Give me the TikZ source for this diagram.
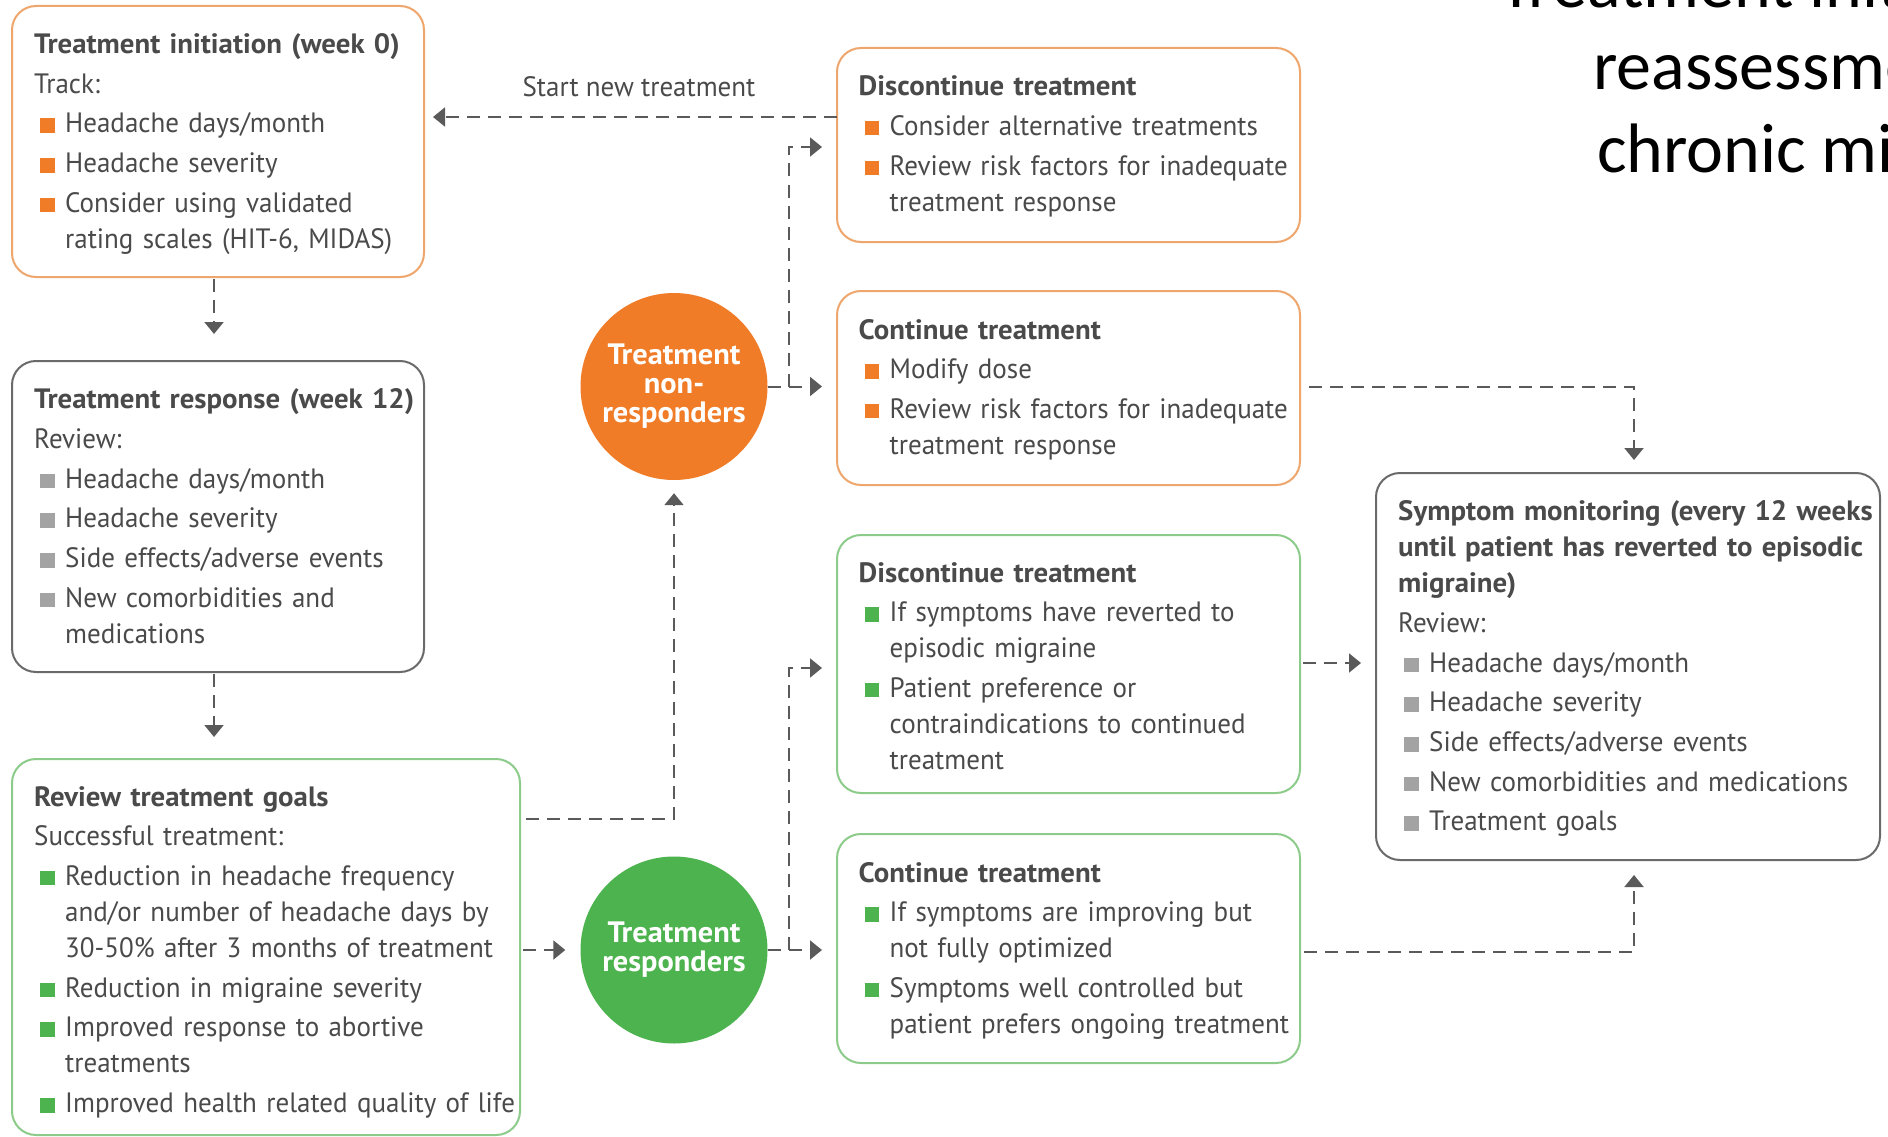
\documentclass[tikz,border=0pt]{standalone}
\usepackage{fontspec}
\setmainfont{PT Sans}[FakeStretch=0.965, BoldFeatures={FakeStretch=1.03}]
\newfontfamily\headfont{Carlito}
\usetikzlibrary{arrows.meta}

\definecolor{orng}{HTML}{F07C28}
\definecolor{orbd}{HTML}{EFA66C}
\definecolor{grn}{HTML}{4DB34E}
\definecolor{grbd}{HTML}{8CCB89}
\definecolor{gybd}{HTML}{6A6A6A}
\definecolor{gysq}{HTML}{A3A3A3}
\definecolor{txtc}{HTML}{4A4A4A}
\definecolor{linec}{HTML}{5A5A5A}

% paragraph setup inside every text block
\newcommand{\bxsetup}{\setlength{\parskip}{3.7pt}\setlength{\parindent}{0pt}}
% line break that keeps the current paragraph (and its hanging indent)
\newcommand{\nl}{\unskip\hfil\break}
% bulleted item with a coloured square and hanging indent; the paragraph
% is closed inside the macro so the indent is still in force
\newcommand{\bul}[2]{\par\hangindent=31pt\hangafter=1%
  \makebox[31pt][l]{\hspace{6pt}\textcolor{#1}{\rule{14.5pt}{14.5pt}}}#2\par}

\tikzset{
  card/.style={draw=#1, line width=2pt, rounded corners=24pt, inner sep=0pt,
    outer sep=0pt, anchor=north west},
  txt/.style={anchor=base west, inner sep=0pt, text width=600pt, align=left,
    text=txtc, font=\fontsize{28}{36}\selectfont},
  disc/.style={circle, fill=#1, minimum size=187pt, inner sep=0pt, text=white,
    align=center, font=\bfseries\fontsize{29.5}{29}\selectfont},
  conn/.style={draw=linec, line width=2pt, dash pattern=on 13pt off 8pt,
    -{Triangle[width=19pt,length=12pt]}},
  bigtitle/.style={anchor=base west, inner sep=0pt, text=black,
    font=\headfont\fontsize{70}{82}\selectfont},
}

\begin{document}
\begin{tikzpicture}[x=1pt, y=-1pt]
\useasboundingbox[fill=white] (0,0) rectangle (1888,1137);

% ---- left column -------------------------------------------------------
\node[card=orbd, minimum width=412pt, minimum height=271pt] (A) at (12,6) {};
\node[txt] (At) at (34,53.5) {\bxsetup
  \textbf{Treatment initiation (week 0)}\par
  Track:
  \bul{orng}{Headache days/month}
  \bul{orng}{Headache severity}
  \bul{orng}{Consider using validated\nl rating scales (HIT-6, MIDAS)}};

\node[card=gybd, minimum width=412pt, minimum height=311pt] (B) at (12,361) {};
\node[txt] (Bt) at (34,408.7) {\bxsetup
  \textbf{Treatment response (week 12)}\par
  Review:
  \bul{gysq}{Headache days/month}
  \bul{gysq}{Headache severity}
  \bul{gysq}{Side effects/adverse events}
  \bul{gysq}{New comorbidities and\nl medications}};

\node[card=grbd, minimum width=508pt, minimum height=376pt] (C) at (12,759) {};
\node[txt] (Ct) at (34,806) {\bxsetup
  \textbf{Review treatment goals}\par
  Successful treatment:
  \bul{grn}{Reduction in headache frequency\nl and/or number of headache days by\nl 30-50\% after 3 months of treatment}
  \bul{grn}{Reduction in migraine severity}
  \bul{grn}{Improved response to abortive\nl treatments}
  \bul{grn}{Improved health related quality of life}};

% ---- decision circles --------------------------------------------------
\node[disc=orng] (NR) at (674,386.5) {Treatment\\non-\\responders};
\node[disc=grn] (R) at (674,950) {Treatment\\responders};

% ---- middle column -----------------------------------------------------
\node[card=orbd, minimum width=463pt, minimum height=194pt] (D) at (837,48) {};
\node[txt] (Dt) at (858.5,95.7) {\bxsetup
  \textbf{Discontinue treatment}
  \bul{orng}{Consider alternative treatments}
  \bul{orng}{Review risk factors for inadequate\nl treatment response}};

\node[card=orbd, minimum width=463pt, minimum height=194pt] (E) at (837,291) {};
\node[txt] (Et) at (858.5,339) {\bxsetup
  \textbf{Continue treatment}
  \bul{orng}{Modify dose}
  \bul{orng}{Review risk factors for inadequate\nl treatment response}};

\node[card=grbd, minimum width=463pt, minimum height=258pt] (F) at (837,535) {};
\node[txt] (Ft) at (858.5,582) {\bxsetup
  \textbf{Discontinue treatment}
  \bul{grn}{If symptoms have reverted to\nl episodic migraine}
  \bul{grn}{Patient preference or\nl contraindications to continued\nl treatment}};

\node[card=grbd, minimum width=463pt, minimum height=229pt] (G) at (837,834) {};
\node[txt] (Gt) at (858.5,882) {\bxsetup
  \textbf{Continue treatment}
  \bul{grn}{If symptoms are improving but\nl not fully optimized}
  \bul{grn}{Symptoms well controlled but\nl patient prefers ongoing treatment}};

% ---- right column ------------------------------------------------------
\node[card=gybd, minimum width=504pt, minimum height=387pt] (H) at (1376,473) {};
\node[txt] (Ht) at (1398,520.7) {\bxsetup
  \textbf{Symptom monitoring (every 12 weeks\nl until patient has reverted to episodic\nl migraine)}\par
  Review:
  \bul{gysq}{Headache days/month}
  \bul{gysq}{Headache severity}
  \bul{gysq}{Side effects/adverse events}
  \bul{gysq}{New comorbidities and medications}
  \bul{gysq}{Treatment goals}};

% ---- heading (runs off the right edge) ----------------------------------
\begin{scope}
  \clip (0,0) rectangle (1888,1137);
  \node[bigtitle] (T1) at (1499,8) {Treatment initiation and};
  \node[bigtitle] (T2) at (1593,90) {reassessment in};
  \node[bigtitle] (T3) at (1597,172) {chronic migraine};
\end{scope}

% ---- connectors --------------------------------------------------------
\draw[conn, shorten <=2pt, shorten >=27pt] ([xshift=-4pt]A.south) -- ([xshift=-4pt]A.south |- B.north);
\draw[conn, shorten <=2pt, shorten >=22pt] ([xshift=-4pt]B.south) -- ([xshift=-4pt]B.south |- C.north);

\draw[conn] (D.west |- 0,117) -- ([xshift=9pt]A.east |- 0,117);
\node[anchor=base, inner sep=0pt, text=txtc, font=\fontsize{28}{36}\selectfont]
  (lbl) at (639,97) {Start new treatment};

\draw[conn, shorten >=13pt] ([xshift=6pt]C.east |- 0,819) -| (NR.south);
\draw[conn, shorten >=15pt] ([xshift=3pt]C.east |- R.west) -- (R.west);

\draw[conn, shorten >=15pt] (NR.east) -- (E.west |- NR.east);
\draw[conn, shorten >=15pt] ([xshift=21pt]NR.east) |- (D.west |- 0,147);
\draw[conn, shorten >=15pt] (R.east) -- (G.west |- R.east);
\draw[conn, shorten >=15pt] ([xshift=21pt]R.east) |- (F.west |- 0,668);

\draw[conn, shorten >=13pt] ([xshift=9pt]E.east |- 0,387) -| ([xshift=6pt]H.north);
\draw[conn, shorten >=15pt] ([xshift=3pt]F.east |- 0,663) -- (H.west |- 0,663);
\draw[conn, shorten >=15pt] ([xshift=4pt]G.east |- 0,952) -| ([xshift=6pt]H.south);
\end{tikzpicture}
\end{document}
